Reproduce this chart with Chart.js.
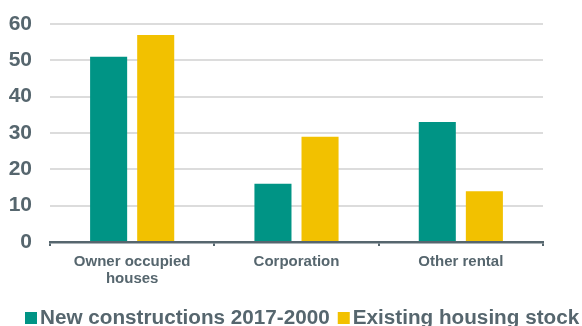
<!DOCTYPE html>
<html lang="en">
<head>
    <meta charset="UTF-8">
    <title>Housing stock</title>
    <style>
        html, body {
            margin: 0;
            padding: 0;
            background: #fff;
            overflow: hidden;
        }

        .chart-container {
            position: relative;
            width: 582px;
            height: 326px;
        }
    </style>
</head>
<body>
    <div class="chart-container">
        <canvas id="housingChart"></canvas>
    </div>
    <script src="https://cdn.jsdelivr.net/npm/chart.js"></script>
    <script>
        // 数据
        const categories = [['Owner occupied', 'houses'], 'Corporation', 'Other rental'];
        const newConstructions = [51, 16, 33];
        const existingStock = [57, 29, 14];
        const seriesNames = ['New constructions 2017-2000', 'Existing housing stock'];

        const TEAL = '#009485';
        const YELLOW = '#f2c100';
        const TEXT = '#56666e';
        const FONT = "'Liberation Sans', Arial, sans-serif";

        // 底部图例：自己画，方块和文字贴得更紧
        const bottomLegend = {
            id: 'bottomLegend',
            afterDraw(chart) {
                const ctx = chart.ctx;
                const box = 12;
                const baseline = 324;
                let x = 25;
                ctx.save();
                ctx.font = 'bold 20.7px ' + FONT;
                ctx.textBaseline = 'alphabetic';
                chart.data.datasets.forEach(ds => {
                    ctx.fillStyle = ds.backgroundColor;
                    ctx.fillRect(x, baseline - box, box, box);
                    x += box + 3;
                    ctx.fillStyle = TEXT;
                    ctx.fillText(ds.label, x, baseline);
                    x += ctx.measureText(ds.label).width + 8;
                });
                ctx.restore();
            }
        };

        const ctx = document.getElementById('housingChart');
        new Chart(ctx, {
            type: 'bar',
            data: {
                labels: categories,
                datasets: [{
                    label: seriesNames[0],
                    data: newConstructions,
                    backgroundColor: TEAL,
                    categoryPercentage: 0.573,
                    barPercentage: 0.787
                }, {
                    label: seriesNames[1],
                    data: existingStock,
                    backgroundColor: YELLOW,
                    categoryPercentage: 0.573,
                    barPercentage: 0.787
                }]
            },
            options: {
                responsive: true,
                maintainAspectRatio: false,
                animation: false,
                layout: {
                    padding: { top: 24, right: 39, bottom: 31.5, left: 8 }
                },
                plugins: {
                    legend: { display: false },
                    tooltip: { enabled: false }
                },
                scales: {
                    x: {
                        // 长标签不要把绘图区往里挤
                        afterFit(scale) {
                            scale.paddingLeft = 0;
                            scale.paddingRight = 0;
                        },
                        grid: {
                            offset: true,
                            drawOnChartArea: false,
                            color: TEXT,
                            lineWidth: 2,
                            tickLength: 4
                        },
                        border: {
                            color: TEXT,
                            width: 2.5
                        },
                        ticks: {
                            padding: 7,
                            color: TEXT,
                            font: { family: FONT, size: 15, weight: 'bold', lineHeight: 1.15 }
                        }
                    },
                    y: {
                        min: 0,
                        max: 60,
                        // 固定轴宽，上下不额外留白
                        afterFit(scale) {
                            scale.width = 42;
                            scale.paddingTop = 0;
                            scale.paddingBottom = 0;
                        },
                        grid: {
                            color: '#dcdcdc',
                            lineWidth: 2,
                            drawTicks: false
                        },
                        border: { display: false },
                        ticks: {
                            stepSize: 10,
                            padding: 18,
                            color: TEXT,
                            font: { family: FONT, size: 21, weight: 'bold' }
                        }
                    }
                }
            },
            plugins: [bottomLegend]
        });
    </script>
</body>
</html>
